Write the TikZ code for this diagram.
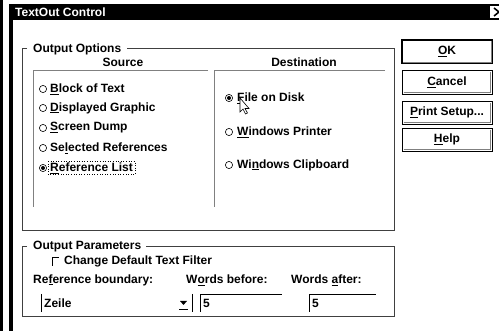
\documentclass[tikz,border=0pt]{standalone}
\usepackage{fontspec}
\setmainfont{Liberation Sans}
\usetikzlibrary{positioning}
\newcommand{\dlgfont}{\fontsize{12}{14}\selectfont\bfseries}
\newcommand{\acc}[1]{\underline{#1}}

\begin{document}
\begin{tikzpicture}[x=1pt, y=-1pt,
  lbl/.style={font=\dlgfont, anchor=west, inner sep=0pt},
  hdr/.style={font=\dlgfont, inner sep=0pt},
  grp/.style={draw=black!75, line width=0.8pt},
  pnl/.style={draw=gray, line width=0.8pt},
  fld/.style={draw=black, line width=0.9pt},
  radio/.style={circle, draw=black, fill=white, line width=0.6pt, inner sep=0pt, minimum size=7.2pt},
  btn/.style={draw=black, fill=white, line width=0.8pt, minimum width=90pt, minimum height=23pt, font=\dlgfont, inner sep=0pt}
]
\useasboundingbox (0,0) rectangle (499,331);

% Window frame and title bar
\fill (0,0) rectangle (2.5,331);
\fill (9,4) rectangle (12.5,331);
\fill (12,4) rectangle (499,20);
\node[lbl, text=white] (title) at (15,12.5) {TextOut Control};
\fill[white] (490,6) rectangle (499,18);
\draw[line width=1.6pt] (494,8) -- (504,16) (494,16) -- (504,8);

% Output Options group
\node[lbl] (optLbl) at (33,49) {Output Options};
\draw[grp] (27,48) -- (22.5,48) -- (22.5,230) -- (394.5,230) -- (394.5,48) -- (127,48);
\node[hdr] (srcHdr) at (123,62) {Source};
\node[hdr] (dstHdr) at (304,62) {Destination};
\draw[pnl] (208,70) -- (33,70) -- (33,207);
\draw[pnl] (385,70) -- (214,70) -- (214,207);

% Source radios
\foreach \y/\n/\t in {89/blk/{\acc{B}lock of Text}, 108/gfx/{\acc{D}isplayed Graphic},
    128/scr/{\acc{S}creen Dump}, 148/sel/{Se\acc{l}ected References}, 168/ref/{\acc{R}eference List}} {
  \node[radio] (r\n) at (43,\y) {};
  \node[lbl] (t\n) at (50,\y) {\t};
}
\fill (rref.center) circle (2pt);
\draw[dotted, line width=0.6pt] ([shift={(-2pt,-1pt)}]tref.south west) rectangle ([shift={(2pt,1pt)}]tref.north east);

% Destination radios
\foreach \y/\n/\t in {98/file/{\acc{F}ile on Disk}, 132/prn/{\acc{W}indows Printer}, 165/clip/{Wi\acc{n}dows Clipboard}} {
  \node[radio] (r\n) at (229,\y) {};
  \node[lbl] (t\n) at (237,\y) {\t};
}
\fill (rfile.center) circle (2pt);

% mouse pointer
\draw[fill=white, line width=0.6pt, line join=miter] (240,98) -- ++(0,14) -- ++(3,-3) -- ++(2.5,5) -- ++(2,-1) -- ++(-2.5,-4.5) -- ++(4,0) -- cycle;

% Buttons
\node[btn, line width=1.8pt] (bok) at (447,51.5) {\acc{O}K};
\node[btn, minimum height=24pt] (bcan) at (447,82) {\acc{C}ancel};
\node[btn] (bprn) at (447,112.5) {\acc{P}rint Setup...};
\node[btn] (bhlp) at (447,139.5) {\acc{H}elp};
\foreach \b in {bok, bcan, bprn, bhlp}
  \draw[gray, line width=1.3pt] ([shift={(2pt,1.6pt)}]\b.south west) -- ([shift={(-1.6pt,1.6pt)}]\b.south east) -- ([shift={(-1.6pt,-2pt)}]\b.north east);

% Output Parameters group
\node[lbl] (parLbl) at (33,247) {Output Parameters};
\draw[grp] (27,246) -- (22.5,246) -- (22.5,316) -- (394.5,316) -- (394.5,246) -- (146,246);
\draw[line width=0.9pt] (52,266) -- (52,257) -- (59,257);
\node[lbl] (tfilt) at (64,261.5) {Change Default Text Filter};

\node[lbl] (tbound) at (33,280) {Re\acc{f}erence boundary:};
\node[lbl] (tbefore) at (186,280) {W\acc{o}rds before:};
\node[lbl] (tafter) at (291,280) {Words \acc{a}fter:};

% Fields
\draw[fld] (41,294) -- (41,312);
\node[lbl] (vzeile) at (44,303.5) {Zeile};
\fill (180,301) -- (187,301) -- (183.5,305) -- cycle;
\draw[line width=0.9pt] (179,309) -- (188,309);
\draw[fld] (192,294) -- (192,312);
\draw[fld] (200,312) -- (200,294) -- (282,294);
\node[lbl] (vbefore) at (203,303.5) {5};
\draw[fld] (309,312) -- (309,294) -- (376,294);
\node[lbl] (vafter) at (312,303.5) {5};
\end{tikzpicture}
\end{document}
